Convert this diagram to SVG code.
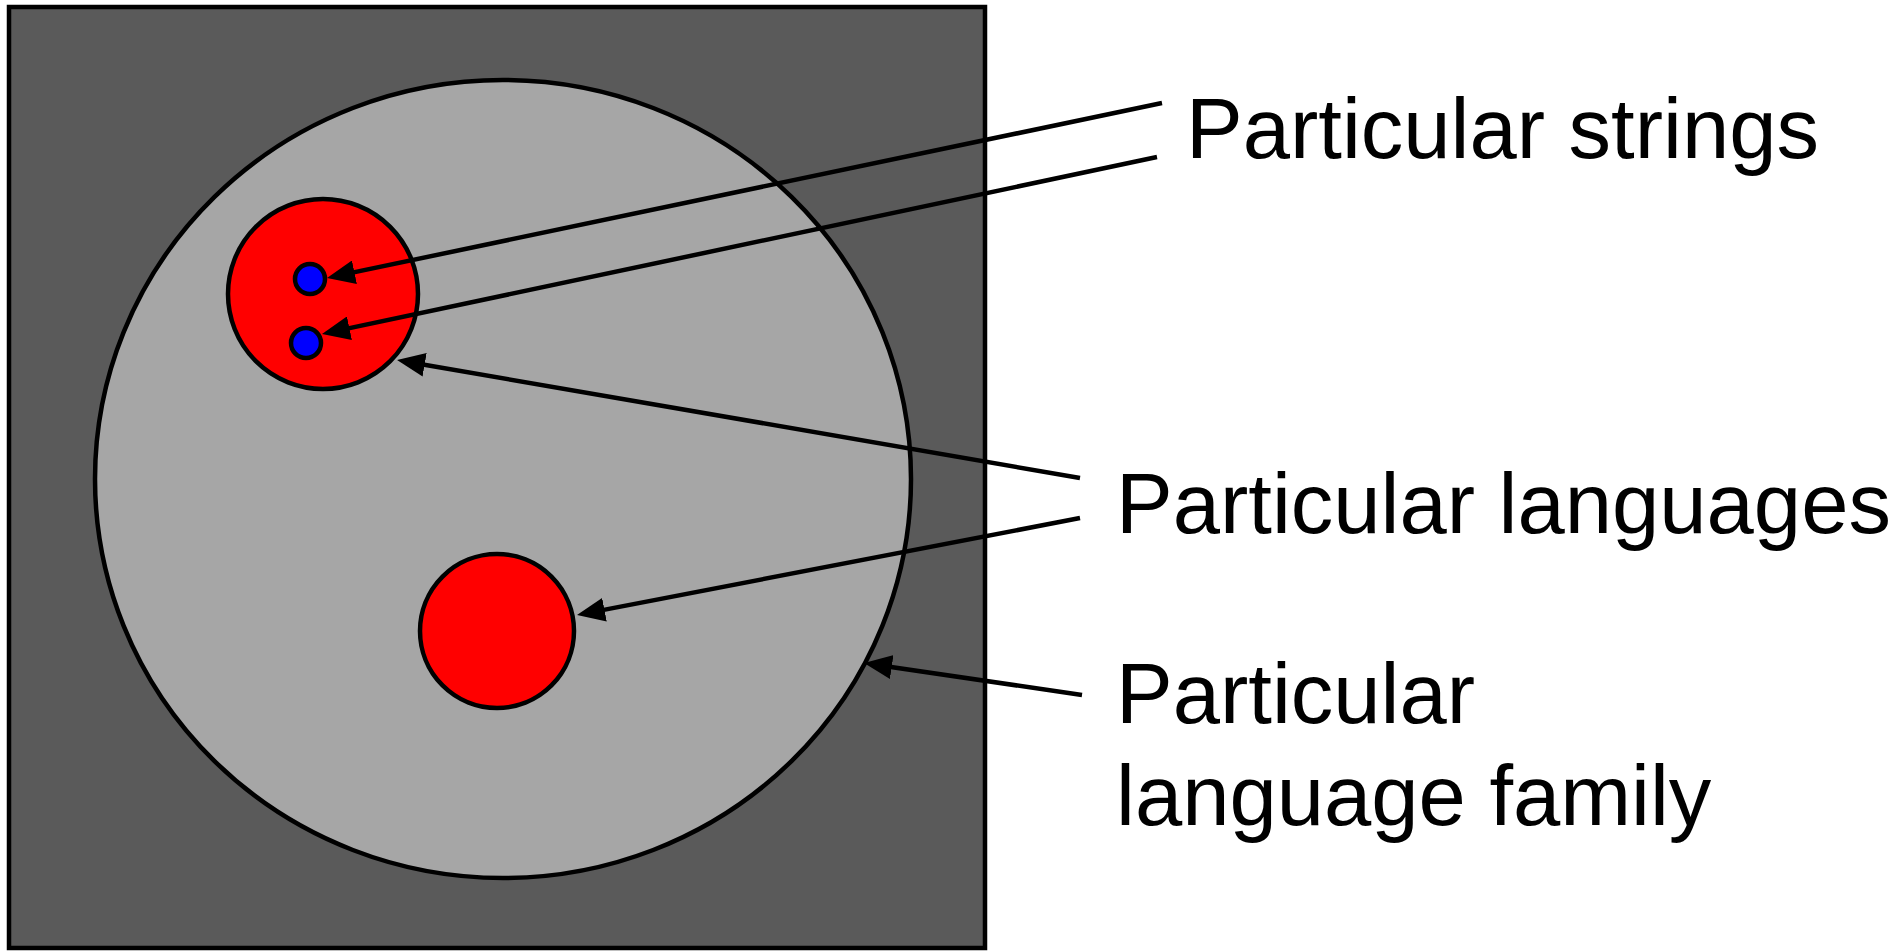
<svg xmlns="http://www.w3.org/2000/svg" width="1897" height="951" viewBox="0 0 1897 951">
<style>
.o{stroke:#000;stroke-width:4.5}
.c{stroke:#000;stroke-width:4.5;fill:none;marker-end:url(#ah)}
.t{font-family:"Liberation Sans",Arial,sans-serif;font-size:85px;fill:#000}
</style>
<defs>
<marker id="ah" markerUnits="userSpaceOnUse" markerWidth="28" markerHeight="24" viewBox="0 0 28 24" refX="18" refY="12" orient="auto">
<path d="M0,0 L28,12 L0,24 z" fill="#000"/>
</marker>
</defs>
<rect width="1897" height="951" fill="#fff"/>
<g id="universe"><rect class="o" x="9" y="7" width="976" height="941" fill="#5a5a5a"/></g>
<g id="family"><ellipse class="o" cx="503" cy="479" rx="408" ry="399" fill="#a6a6a6"/></g>
<g id="language1"><circle class="o" cx="323" cy="294" r="95" fill="#ff0000"/></g>
<g id="language2"><circle class="o" cx="497" cy="631" r="77" fill="#ff0000"/></g>
<g id="string1"><circle class="o" cx="310" cy="279" r="15" fill="#0000ff"/></g>
<g id="string2"><circle class="o" cx="306" cy="343" r="15" fill="#0000ff"/></g>
<g id="connectors">
<line class="c" x1="1162" y1="103" x2="336.8" y2="275.9"/>
<line class="c" x1="1157" y1="157" x2="331.8" y2="331.9"/>
<line class="c" x1="1080" y1="478" x2="406.9" y2="361.7"/>
<line class="c" x1="1080" y1="518" x2="586.8" y2="613.1"/>
<line class="c" x1="1082" y1="695" x2="873.9" y2="664.5"/>
</g>
<g id="label-strings"><text class="t" x="1186" y="158">Particular strings</text></g>
<g id="label-languages"><text class="t" x="1116" y="533">Particular languages</text></g>
<g id="label-family"><text class="t" x="1116" y="723">Particular</text><text class="t" x="1116" y="825">language family</text></g>
</svg>
